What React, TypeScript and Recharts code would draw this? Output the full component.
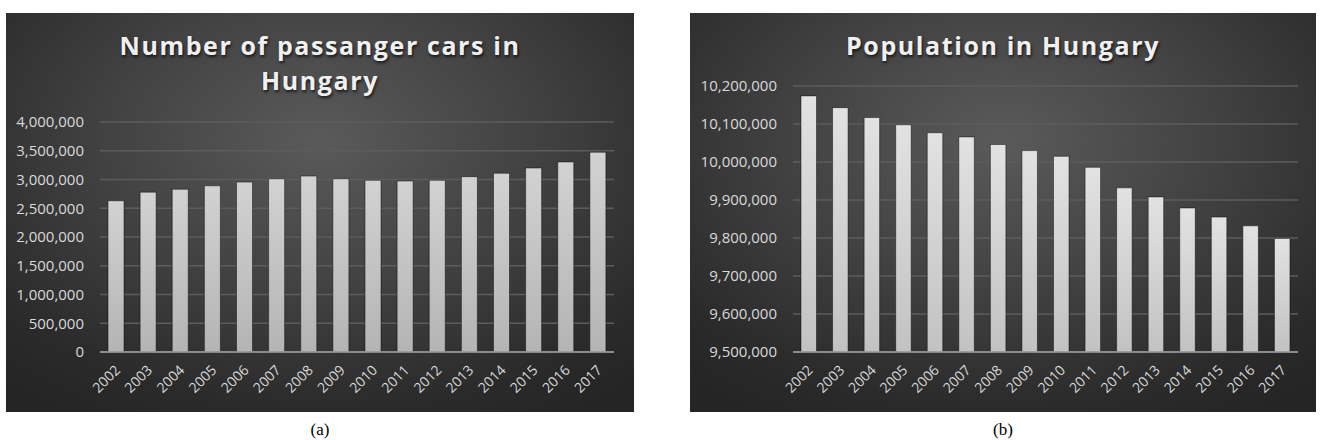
import React from 'react';
import { BarChart, Bar, XAxis, YAxis, CartesianGrid } from 'recharts';

const years = ['2002', '2003', '2004', '2005', '2006', '2007', '2008', '2009', '2010', '2011', '2012', '2013', '2014', '2015', '2016', '2017'];

const carCounts = [2630000, 2780000, 2830000, 2890000, 2955000, 3012000, 3060000, 3013000, 2986000, 2974000, 2986000, 3049000, 3108000, 3200000, 3305000, 3474000];

const population = [10174000, 10143000, 10117000, 10098000, 10077000, 10066000, 10046000, 10030000, 10015000, 9986000, 9932000, 9908000, 9879000, 9855000, 9832000, 9799000];

const carTicks = [0, 500000, 1000000, 1500000, 2000000, 2500000, 3000000, 3500000, 4000000];
const popTicks = [9500000, 9600000, 9700000, 9800000, 9900000, 10000000, 10100000, 10200000];

const FONT = '"Open Sans", "Liberation Sans", sans-serif';
const LABEL = '#d9d9d9';

const carData = years.map((year, i) => ({ year, value: carCounts[i] }));
const popData = years.map((year, i) => ({ year, value: population[i] }));

const fmt = (v: number) => v.toLocaleString('en-US');

function YearTick(props: any) {
  const { x, y, payload } = props;
  return (
    <g transform={`translate(${x + 5},${y + 19})`}>
      <text textAnchor="end" transform="rotate(-45)" fill={LABEL} fontSize={14} fontFamily={FONT}>
        {payload.value}
      </text>
    </g>
  );
}

const panelBg = 'radial-gradient(ellipse 75% 80% at 50% 32%, #5a5a5a 0%, #424242 45%, #2a2a2a 85%, #252525 100%)';

const titleStyle: React.CSSProperties = {
  position: 'absolute',
  left: 0,
  right: 0,
  top: 15,
  textAlign: 'center',
  fontFamily: FONT,
  fontWeight: 700,
  fontSize: 25,
  lineHeight: '35px',
  letterSpacing: 1.6,
  color: '#f0f0f0',
  textShadow: '1px 2px 3px rgba(0,0,0,0.7)',
};

function Panel({ left, width, title, children }: any) {
  return (
    <div style={{ position: 'absolute', left, top: 13, width, height: 399, background: panelBg }}>
      {children}
      <div style={titleStyle}>{title}</div>
    </div>
  );
}

export default function App() {
  return (
    <div style={{ position: 'absolute', left: 0, top: 0, width: 1320, height: 440, background: '#fff' }}>
      <Panel
        left={6}
        width={628}
        title={<>Number of passanger cars in<br />Hungary</>}
      >
        <BarChart width={628} height={399} data={carData} margin={{ top: 109, right: 20, bottom: 0, left: 0 }}>
          <defs>
            <linearGradient id="carBar" x1="0" y1="0" x2="0" y2="1">
              <stop offset="0%" stopColor="#d2d2d2" />
              <stop offset="100%" stopColor="#b4b4b4" />
            </linearGradient>
          </defs>
          <CartesianGrid vertical={false} stroke="#5c5c5c" strokeWidth={1.3} />
          <XAxis
            dataKey="year"
            interval={0}
            height={60}
            tickLine={false}
            tickSize={0}
            tickMargin={0}
            axisLine={{ stroke: '#a0a0a0', strokeWidth: 1.5 }}
            tick={<YearTick />}
          />
          <YAxis
            width={94}
            domain={[0, 4000000]}
            ticks={carTicks}
            tickFormatter={fmt}
            axisLine={false}
            tickLine={false}
            tickSize={0}
            tickMargin={16}
            tick={{ fill: LABEL, fontSize: 15, fontFamily: FONT }}
          />
          <Bar dataKey="value" fill="url(#carBar)" barSize={16} stroke="rgba(0,0,0,0.45)" strokeWidth={1} isAnimationActive={false} />
        </BarChart>
      </Panel>

      <Panel left={690} width={626} title="Population in Hungary">
        <BarChart width={626} height={399} data={popData} margin={{ top: 73, right: 18, bottom: 0, left: 0 }}>
          <defs>
            <linearGradient id="popBar" x1="0" y1="0" x2="0" y2="1">
              <stop offset="0%" stopColor="#e2e2e2" />
              <stop offset="100%" stopColor="#c2c2c2" />
            </linearGradient>
          </defs>
          <CartesianGrid vertical={false} stroke="#5c5c5c" strokeWidth={1.3} />
          <XAxis
            dataKey="year"
            interval={0}
            height={60}
            tickLine={false}
            tickSize={0}
            tickMargin={0}
            axisLine={{ stroke: '#a0a0a0', strokeWidth: 1.5 }}
            tick={<YearTick />}
          />
          <YAxis
            width={103}
            domain={[9500000, 10200000]}
            ticks={popTicks}
            tickFormatter={fmt}
            axisLine={false}
            tickLine={false}
            tickSize={0}
            tickMargin={16}
            tick={{ fill: LABEL, fontSize: 15, fontFamily: FONT }}
          />
          <Bar dataKey="value" fill="url(#popBar)" barSize={15.5} stroke="rgba(0,0,0,0.45)" strokeWidth={1} isAnimationActive={false} />
        </BarChart>
      </Panel>

      <div style={{ position: 'absolute', left: 280, width: 80, top: 420, textAlign: 'center', fontFamily: '"Liberation Serif", serif', fontSize: 17, lineHeight: '20px', color: '#000' }}>(a)</div>
      <div style={{ position: 'absolute', left: 963, width: 80, top: 420, textAlign: 'center', fontFamily: '"Liberation Serif", serif', fontSize: 17, lineHeight: '20px', color: '#000' }}>(b)</div>
    </div>
  );
}
